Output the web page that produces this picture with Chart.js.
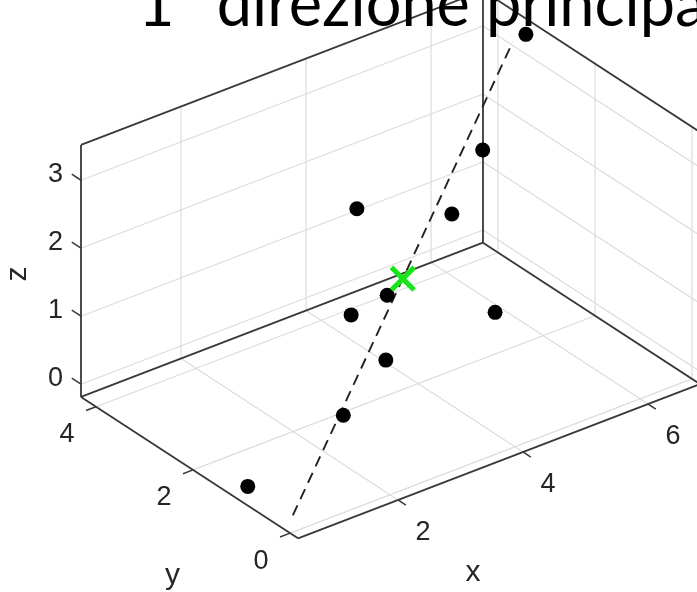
<!DOCTYPE html>
<html>
<head>
<meta charset="utf-8">
<script src="https://cdn.jsdelivr.net/npm/chart.js@4.4.0/dist/chart.umd.min.js"></script>
<style>
  html, body { margin: 0; padding: 0; background: #ffffff; overflow: hidden; }
  #wrap { position: relative; width: 697px; height: 592px; }
</style>
</head>
<body>
<div id="wrap"><canvas id="chart"></canvas></div>
<script>
// Observations (x, y, z)
const obsX = [6.64, 5.91, 3.23, 4.61, 3.25, 2.51, 4.65, 2.98, 1.71, 0.50];
const obsY = [3.18, 3.13, 2.27, 2.09, 1.67, 1.46, 1.25, 1.35, 0.59, 1.00];
const obsZ = [3.47, 2.05, 2.53, 2.05, 1.53, 1.60, 0.98, 0.82, 0.81, 0.00];

// Centroid of the observations
const centroid = [3.60, 1.80, 1.59];

// Segment along the first principal direction
const pcStart = [0.60, 0.20, -0.09];
const pcEnd = [6.60, 3.40, 3.27];

// Axis limits and ticks
const xLim = [0.40, 6.83];
const yLim = [-0.165, 4.31];
const zLim = [-0.187, 3.52];
const xTicks = [2, 4, 6];
const yTicks = [0, 2, 4];
const zTicks = [0, 1, 2, 3];
const xTickLabels = ['2', '4', '6'];
const yTickLabels = ['0', '2', '4'];
const zTickLabels = ['0', '1', '2', '3'];
const axisNames = ['x', 'y', 'z'];
const titleText = '1° direzione principale';

// 3-D view: azimuth / elevation, relative box edge lengths, placement on the canvas
const view = { az: -37.5, el: 30 };
const boxAspect = [1.4213, 1, 0.8163];
const boxScale = 356.5;
const boxCentre = [390.5, 264.5];
const W = 697, H = 592;

function project(p) {
  const u = [
    ((p[0] - xLim[0]) / (xLim[1] - xLim[0]) - 0.5) * boxAspect[0],
    ((p[1] - yLim[0]) / (yLim[1] - yLim[0]) - 0.5) * boxAspect[1],
    ((p[2] - zLim[0]) / (zLim[1] - zLim[0]) - 0.5) * boxAspect[2]
  ];
  const a = view.az * Math.PI / 180, e = view.el * Math.PI / 180;
  const h = Math.cos(a) * u[0] + Math.sin(a) * u[1];
  const v = -Math.sin(e) * Math.sin(a) * u[0] + Math.sin(e) * Math.cos(a) * u[1] + Math.cos(e) * u[2];
  return { x: boxCentre[0] + boxScale * h, y: boxCentre[1] - boxScale * v };
}

const [x0, x1] = xLim, [y0, y1] = yLim, [z0, z1] = zLim;

function segment(a, b, color, width, order, dash) {
  return {
    type: 'scatter',
    showLine: true,
    data: [project(a), project(b)],
    borderColor: color,
    borderWidth: width,
    borderDash: dash || [],
    pointRadius: 0,
    fill: false,
    clip: false,
    order: order
  };
}

const datasets = [];
const gridColor = '#dcdcdc';
const boxColor = '#383838';

// grid on the floor and the two back walls
xTicks.forEach(t => {
  datasets.push(segment([t, y0, z0], [t, y1, z0], gridColor, 1.2, 60));
  datasets.push(segment([t, y1, z0], [t, y1, z1], gridColor, 1.2, 60));
});
yTicks.forEach(t => {
  datasets.push(segment([x0, t, z0], [x1, t, z0], gridColor, 1.2, 60));
  datasets.push(segment([x1, t, z0], [x1, t, z1], gridColor, 1.2, 60));
});
zTicks.forEach(t => {
  datasets.push(segment([x0, y1, t], [x1, y1, t], gridColor, 1.2, 60));
  datasets.push(segment([x1, y0, t], [x1, y1, t], gridColor, 1.2, 60));
});

// box edges (back planes)
[
  [[x0, y0, z0], [x1, y0, z0]],
  [[x0, y0, z0], [x0, y1, z0]],
  [[x0, y1, z0], [x1, y1, z0]],
  [[x1, y0, z0], [x1, y1, z0]],
  [[x0, y1, z0], [x0, y1, z1]],
  [[x1, y1, z0], [x1, y1, z1]],
  [[x1, y0, z0], [x1, y0, z1]],
  [[x0, y1, z1], [x1, y1, z1]],
  [[x1, y0, z1], [x1, y1, z1]]
].forEach(s => datasets.push(segment(s[0], s[1], boxColor, 1.8, 50)));

// tick marks
xTicks.forEach(t => datasets.push(segment([t, y0, z0], [t, y0 - 0.16, z0], boxColor, 1.5, 50)));
yTicks.forEach(t => datasets.push(segment([x0, t, z0], [x0 - 0.16, t, z0], boxColor, 1.5, 50)));
zTicks.forEach(t => datasets.push(segment([x0, y1, t], [x0, y1 + 0.19, t], boxColor, 1.5, 50)));

// first principal direction
datasets.push(segment(pcStart, pcEnd, '#222222', 1.9, 30, [11, 7]));

// observations
datasets.push({
  type: 'scatter',
  data: obsX.map((x, i) => project([x, obsY[i], obsZ[i]])),
  pointRadius: 7.5,
  pointStyle: 'circle',
  backgroundColor: '#000000',
  borderWidth: 0,
  clip: false,
  order: 20
});

// centroid marker
datasets.push({
  type: 'scatter',
  data: [project(centroid)],
  pointStyle: 'crossRot',
  pointRadius: 16,
  borderColor: '#16e616',
  borderWidth: 5,
  clip: false,
  order: 10
});

// axis tick labels, axis names and title
const labelsPlugin = {
  id: 'axisText',
  afterDatasetsDraw(chart) {
    const ctx = chart.ctx;
    const sx = chart.scales.x, sy = chart.scales.y;
    const px = p => ({ x: sx.getPixelForValue(p.x), y: sy.getPixelForValue(p.y) });
    ctx.save();
    ctx.fillStyle = '#262626';
    ctx.font = '27px "Liberation Sans", Arial, sans-serif';
    ctx.textAlign = 'center';
    ctx.textBaseline = 'middle';
    xTicks.forEach((t, i) => {
      const p = px(project([t, y0, z0]));
      ctx.fillText(xTickLabels[i], p.x + 25, p.y + 33);
    });
    yTicks.forEach((t, i) => {
      const p = px(project([x0, t, z0]));
      ctx.fillText(yTickLabels[i], p.x - 29, p.y + 28);
    });
    ctx.textAlign = 'right';
    zTicks.forEach((t, i) => {
      const p = px(project([x0, y1, t]));
      ctx.fillText(zTickLabels[i], p.x - 18, p.y - 6);
    });

    ctx.font = '30px "Liberation Sans", Arial, sans-serif';
    ctx.textAlign = 'center';
    const xm = px(project([(x0 + x1) / 2, y0, z0]));
    ctx.fillText(axisNames[0], xm.x - 26, xm.y + 112);
    const ym = px(project([x0, (y0 + y1) / 2, z0]));
    ctx.fillText(axisNames[1], ym.x - 17, ym.y + 108);
    const zm = px(project([x0, y1, (z0 + z1) / 2]));
    ctx.save();
    ctx.translate(zm.x - 63, zm.y + 3);
    ctx.rotate(-Math.PI / 2);
    ctx.fillText(axisNames[2], 0, 0);
    ctx.restore();

    ctx.fillStyle = '#000000';
    ctx.font = '63px Lato, "Open Sans", sans-serif';
    ctx.textAlign = 'left';
    ctx.textBaseline = 'alphabetic';
    ctx.fillText(titleText, 138, 26);
    ctx.restore();
  }
};

new Chart(document.getElementById('chart'), {
  type: 'scatter',
  data: { datasets },
  options: {
    responsive: true,
    maintainAspectRatio: false,
    animation: false,
    events: [],
    layout: { padding: 0, autoPadding: false },
    plugins: { legend: { display: false }, tooltip: { enabled: false }, title: { display: false } },
    scales: {
      x: { type: 'linear', min: 0, max: W, display: false },
      y: { type: 'linear', min: 0, max: H, reverse: true, display: false }
    }
  },
  plugins: [labelsPlugin]
});
</script>
</body>
</html>
